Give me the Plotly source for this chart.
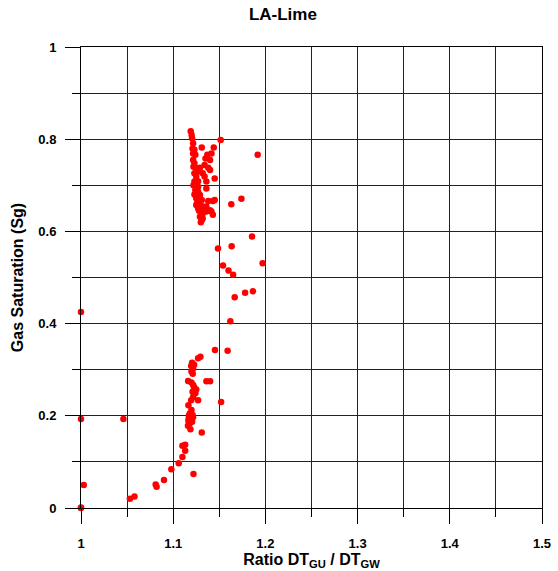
import plotly.graph_objects as go

# Ratio DT_GU / DT_GW
ratio = [
    1.000, 1.000, 1.000, 1.000, 1.003, 1.046, 1.053, 1.058, 1.081, 1.082,
    1.090, 1.098, 1.106, 1.110, 1.110, 1.113, 1.113, 1.122, 1.131,
    1.117, 1.1215, 1.1165, 1.118, 1.116, 1.1187, 1.1205, 1.117, 1.121, 1.118,
    1.1198, 1.1165, 1.1195, 1.127, 1.1216, 1.124, 1.121, 1.125, 1.1227, 1.1216,
    1.1198, 1.1162, 1.136, 1.140, 1.1212, 1.1198, 1.1216, 1.1195, 1.1227, 1.1205,
    1.127, 1.1295, 1.152,
    1.1453, 1.159, 1.162, 1.1667, 1.178, 1.1865, 1.165, 1.160, 1.154, 1.197,
    1.1486, 1.1634, 1.1855, 1.163, 1.174, 1.1916, 1.1515,
    1.119, 1.120, 1.1205, 1.1216, 1.131, 1.144, 1.121, 1.123, 1.1216, 1.124,
    1.137, 1.1415, 1.135, 1.140, 1.1216, 1.123, 1.122, 1.134, 1.138, 1.140,
    1.125, 1.129, 1.127, 1.123, 1.125, 1.132, 1.134, 1.145, 1.123, 1.127,
    1.136, 1.127, 1.136, 1.127, 1.129, 1.125, 1.131, 1.138, 1.143, 1.145,
    1.125, 1.129, 1.132, 1.127, 1.131, 1.136, 1.140, 1.136, 1.132, 1.129,
    1.131, 1.132, 1.1415, 1.143, 1.122, 1.124, 1.123, 1.126, 1.128, 1.130,
]
# Gas saturation Sg
sg = [
    0.425, 0.193, 0.000, 0.001, 0.050, 0.193, 0.020, 0.025, 0.051, 0.046,
    0.061, 0.084, 0.097, 0.1105, 0.135, 0.137, 0.124, 0.074, 0.164,
    0.200, 0.197, 0.189, 0.184, 0.1785, 0.171, 0.187, 0.1945, 0.202, 0.205,
    0.2125, 0.223, 0.234, 0.234, 0.241, 0.249, 0.252, 0.257, 0.262, 0.267,
    0.272, 0.2755, 0.275, 0.275, 0.291, 0.296, 0.302, 0.308, 0.311, 0.315,
    0.325, 0.328, 0.230,
    0.343, 0.341, 0.405, 0.457, 0.467, 0.470, 0.506, 0.515, 0.526, 0.531,
    0.563, 0.568, 0.589, 0.659, 0.671, 0.766, 0.798,
    0.817, 0.809, 0.802, 0.791, 0.782, 0.782, 0.780, 0.777, 0.769, 0.766,
    0.766, 0.769, 0.758, 0.755, 0.755, 0.748, 0.740, 0.744, 0.738, 0.733,
    0.737, 0.738, 0.730, 0.726, 0.719, 0.726, 0.719, 0.715, 0.708, 0.709,
    0.708, 0.697, 0.693, 0.686, 0.679, 0.672, 0.668, 0.666, 0.666, 0.668,
    0.657, 0.661, 0.654, 0.650, 0.646, 0.654, 0.646, 0.643, 0.639, 0.632,
    0.625, 0.628, 0.643, 0.636, 0.700, 0.690, 0.680, 0.662, 0.645, 0.620,
]

title_text = "LA-Lime"
x_title = "Ratio DT<sub>GU</sub> / DT<sub>GW</sub>"
y_title = "Gas Saturation (Sg)"

FONT = "Liberation Sans, Arial, sans-serif"
GRID = "#222222"

fig = go.Figure()
fig.add_trace(go.Scatter(
    x=ratio, y=sg, mode="markers",
    marker=dict(color="#ff0000", size=6.5, line=dict(width=0)),
    cliponaxis=False, showlegend=False,
))

fig.update_layout(
    width=558, height=571,
    margin=dict(l=81, r=16, t=47, b=63),
    paper_bgcolor="white", plot_bgcolor="white",
    font=dict(family=FONT, color="black"),
    title=dict(text=title_text, x=0.507, xanchor="center", y=0.985, yanchor="top",
               font=dict(size=17, weight="bold", family=FONT)),
)

fig.update_xaxes(
    range=[1, 1.5], dtick=0.1, tick0=1, automargin=False,
    showgrid=True, gridcolor=GRID, gridwidth=1,
    zeroline=False, showline=True, linecolor="black", linewidth=1, mirror=True,
    ticks="outside", ticklen=15, tickcolor="black", tickwidth=1,
    ticklabelstandoff=8,
    tickfont=dict(size=13, weight="bold", family=FONT),
    minor=dict(dtick=0.05, tick0=1, showgrid=True, gridcolor=GRID, gridwidth=1,
               ticks="outside", ticklen=8, tickcolor="black"),
    title=dict(text=x_title, font=dict(size=16, weight="bold", family=FONT), standoff=0),
)
fig.update_yaxes(
    range=[0, 1], dtick=0.2, tick0=0, automargin=False,
    showgrid=True, gridcolor=GRID, gridwidth=1,
    zeroline=False, showline=True, linecolor="black", linewidth=1, mirror=True,
    ticks="outside", ticklen=15, tickcolor="black", tickwidth=1,
    ticklabelstandoff=6,
    tickfont=dict(size=13, weight="bold", family=FONT),
    minor=dict(dtick=0.1, tick0=0, showgrid=True, gridcolor=GRID, gridwidth=1,
               ticks="outside", ticklen=8, tickcolor="black"),
    title=dict(text=y_title, font=dict(size=16, weight="bold", family=FONT), standoff=10),
)

fig.write_html("out.html")
